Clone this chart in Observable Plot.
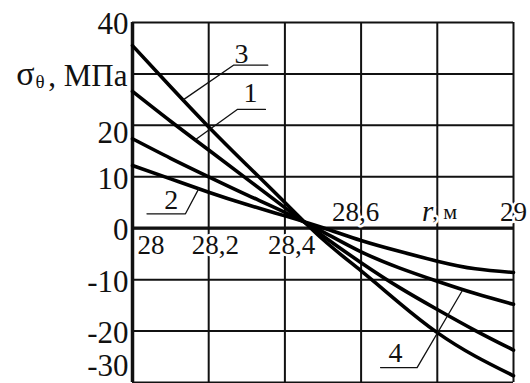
<!DOCTYPE html>
<html>
<head>
<meta charset="utf-8">
<script src="https://cdn.jsdelivr.net/npm/d3@7"></script>
<script src="https://cdn.jsdelivr.net/npm/@observablehq/plot@0.6"></script>
<style>
  html, body { margin: 0; padding: 0; background: #fff; }
  svg { display: block; }
</style>
</head>
<body>
<div id="chart"></div>
<script>
// radius r, m
const r = [28, 28.1, 28.2, 28.3, 28.4, 28.5, 28.6, 28.7, 28.8, 28.9, 29];
// hoop stress sigma_theta, MPa, curves 1..4
const s1 = [26.6, 20.8, 15.2, 9.6, 4.0, -1.5, -6.7, -11.5, -15.8, -19.9, -23.7];
const s2 = [12.2, 9.6, 7.0, 4.6, 2.4, 0.1, -2.4, -4.5, -6.4, -7.9, -8.6];
const s3 = [35.5, 27.5, 19.7, 12.3, 5.0, -2.2, -8.3, -14.5, -20.3, -24.9, -28.7];
const s4 = [17.4, 13.6, 10.0, 6.5, 3.1, -0.7, -4.6, -7.7, -10.3, -12.7, -14.8];
const curveNames = ["1", "2", "3", "4"];

// grid / ticks
const xGrid = [28, 28.2, 28.4, 28.6, 28.8, 29];
const yGrid = [-30, -20, -10, 0, 10, 20, 30, 40];
const yTickValues = [40, 10, 0, -10, -20];
const yTickValues2 = [20];
const yTickValues3 = [-30];
const xLabelsBelowValues = [28.2, 28.4];
const xLabelsBelowTexts = ["28,2", "28,4"];
const xLabelFirst = "28";
const xLabel06 = "28,6";
const xLabelLast = "29";
const xUnitVar = "r";
const xUnitRest = ", м";
const yTitleSigma = "σ";
const yTitleSub = "θ";
const yTitleRest = ", МПа";

// curve labels (number) with leader lines: points in (r, sigma)
const labelText = ["3", "1", "2", "4"];
const labelR = [28.286, 28.31, 28.102, 28.69];
const labelS = [33.9, 26.3, 5.5, -24.3];
const leader3R = [28.134, 28.265, 28.355];
const leader3S = [25.0, 31.7, 31.7];
const leader1R = [28.165, 28.275, 28.349];
const leader1S = [17.2, 23.1, 23.1];
const leader2R = [28.174, 28.139, 28.038];
const leader2S = [7.7, 2.8, 2.8];
const leader4R = [28.865, 28.747, 28.651];
const leader4S = [-12.2, -27.1, -27.1];

const series = [s1, s2, s3, s4];
const data = series.flatMap((s, k) => s.map((v, i) => ({r: r[i], s: v, curve: curveNames[k]})));
const leaders = [[leader3R, leader3S], [leader1R, leader1S], [leader2R, leader2S], [leader4R, leader4S]]
  .flatMap(([R, S], k) => R.map((v, i) => ({r: v, s: S[i], id: k})));
const labels = labelText.map((t, i) => ({t, r: labelR[i], s: labelS[i]}));

const ff = "Liberation Serif";
const ink = "#111";
const halo = {stroke: "white", strokeWidth: 5, paintOrder: "stroke"};
const T = {fontFamily: ff, fill: ink};

const chart = Plot.plot({
  width: 530,
  height: 383,
  marginLeft: 132,
  marginRight: 17,
  marginTop: 22,
  marginBottom: 1,
  style: {background: "white", overflow: "visible"},
  x: {domain: [28, 29], axis: null},
  y: {domain: [-30, 40], axis: null},
  marks: [
    Plot.ruleX(xGrid, {stroke: ink, strokeWidth: 2}),
    Plot.ruleY(yGrid, {stroke: ink, strokeWidth: 2}),
    Plot.ruleX([28], {stroke: ink, strokeWidth: 3.5}),
    Plot.ruleY([0], {stroke: ink, strokeWidth: 3.2}),
    // x tick labels
    Plot.text([28], {x: d => d, y: 0, text: () => xLabelFirst, textAnchor: "start", dx: 5, dy: 17, fontSize: 27, ...T, ...halo}),
    Plot.text(xLabelsBelowValues, {x: d => d, y: 0, text: (d, i) => xLabelsBelowTexts[i], textAnchor: "start", dx: -17, dy: 17, fontSize: 27, ...T, ...halo}),
    Plot.text([28.6], {x: d => d, y: 0, text: () => xLabel06, textAnchor: "start", dx: -29, dy: -16, fontSize: 27, ...T, ...halo}),
    Plot.text([29], {x: d => d, y: 0, text: () => xLabelLast, textAnchor: "middle", dx: 0, dy: -16, fontSize: 27, ...T, ...halo}),
    Plot.text([28.8], {x: d => d, y: 0, text: () => xUnitVar, textAnchor: "end", dx: -4, dy: -16, fontSize: 29, fontStyle: "italic", ...T, ...halo}),
    Plot.text([28.8], {x: d => d, y: 0, text: () => xUnitRest, textAnchor: "start", dx: -5, dy: -16, fontSize: 22, ...T, ...halo}),
    // y tick labels
    Plot.text(yTickValues, {x: 28, y: d => d, text: d => String(d), textAnchor: "end", dx: -4, dy: 2, fontSize: 31, ...T}),
    Plot.text(yTickValues2, {x: 28, y: d => d, text: d => String(d), textAnchor: "end", dx: -4, dy: 8, fontSize: 31, ...T}),
    Plot.text(yTickValues3, {x: 28, y: d => d, text: d => String(d), textAnchor: "end", dx: -4, dy: -16, fontSize: 31, ...T}),
    // y title
    Plot.text([30], {x: 28, y: d => d, text: () => yTitleRest, textAnchor: "end", dx: -5, dy: 2, fontSize: 31, ...T}),
    Plot.text([30], {x: 28, y: d => d, text: () => yTitleSub, textAnchor: "end", dx: -88, dy: 8, fontSize: 19, ...T}),
    Plot.text([30], {x: 28, y: d => d, text: () => yTitleSigma, textAnchor: "end", dx: -98, dy: 0, fontSize: 34, ...T}),
    // curves
    Plot.line(data, {x: "r", y: "s", z: "curve", curve: "natural", stroke: "black", strokeWidth: 3.6}),
    // leaders and curve labels
    Plot.line(leaders, {x: "r", y: "s", z: "id", stroke: ink, strokeWidth: 1.3}),
    Plot.text(labels, {x: "r", y: "s", text: "t", fontSize: 28, ...T})
  ]
});
d3.select(chart).attr("font-family", ff).style("font-family", ff);
d3.select(chart).selectAll("g, text").attr("font-family", ff).style("font-family", ff);
document.getElementById("chart").appendChild(chart);
</script>
</body>
</html>
